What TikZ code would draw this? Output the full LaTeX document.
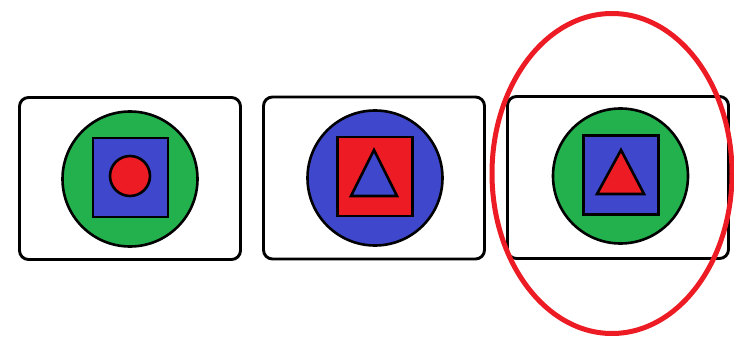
\documentclass[tikz,border=0pt]{standalone}
\usetikzlibrary{shapes.geometric}
\definecolor{pgreen}{RGB}{34,177,76}
\definecolor{pblue}{RGB}{63,72,204}
\definecolor{pred}{RGB}{237,28,36}
\begin{document}
\begin{tikzpicture}[x=1pt,y=-1pt,
  card/.style={draw=black,line width=2.9pt,rounded corners=9pt,fill=white,inner sep=0pt,minimum width=221pt,minimum height=162pt},
  disc/.style={circle,draw=black,line width=2.6pt,inner sep=0pt,minimum size=135pt},
  sq/.style={rectangle,draw=black,line width=2.6pt,inner sep=0pt,minimum width=75pt,minimum height=79pt},
  dot/.style={circle,draw=black,line width=2.6pt,inner sep=0pt,minimum size=40pt},
  tri/.style={draw=black,line width=2.6pt,line join=miter}]
\useasboundingbox (0,0) rectangle (734,342);
% card 1
\node[card] (c1) at (130,178.5) {};
\node[disc,fill=pgreen] (d1) at (130,179) {};
\node[sq,fill=pblue] (s1) at (130.5,177.5) {};
\node[dot,fill=pred] (r1) at (130,176) {};
% card 2
\node[card] (c2) at (374,178) {};
\node[disc,fill=pblue] (d2) at (375,178) {};
\node[sq,fill=pred] (s2) at (375,176.5) {};
\draw[tri,fill=pblue] (374,150) -- (351,196) -- (397,196) -- cycle;
% card 3
\node[card] (c3) at (618,177.5) {};
\node[disc,fill=pgreen] (d3) at (620.5,176) {};
\node[sq,fill=pblue] (s3) at (621,175) {};
\draw[tri,fill=pred] (621,150) -- (597,194) -- (644,194) -- cycle;
% highlight ellipse
\node[ellipse,draw=pred,line width=5pt,inner sep=0pt,minimum width=240pt,minimum height=320pt] (hl) at (612,173.5) {};
\end{tikzpicture}
\end{document}
